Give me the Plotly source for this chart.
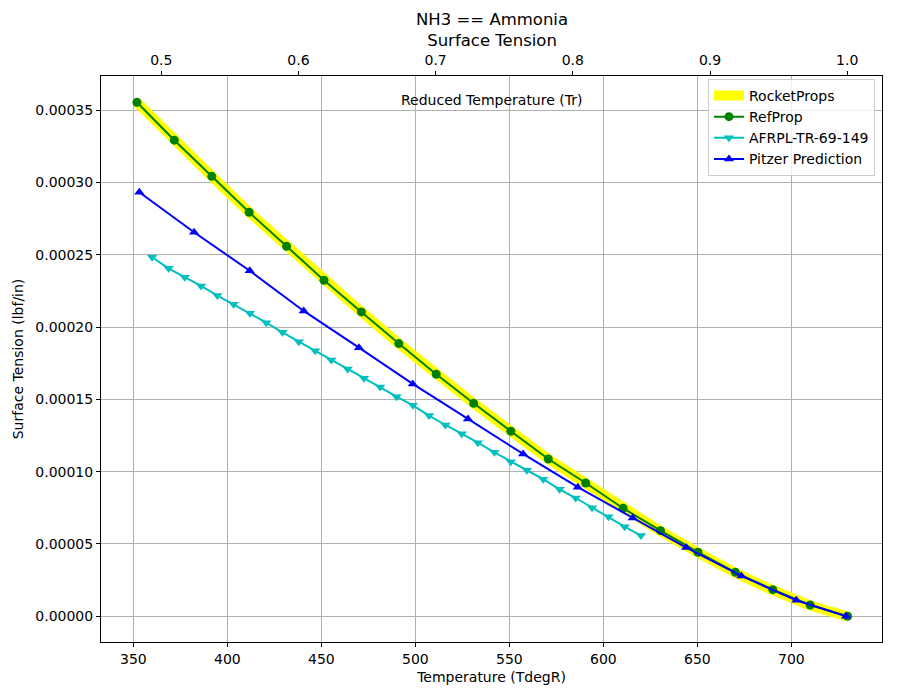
import plotly.graph_objects as go

# ---------------- data ----------------
TC_DEGR = 729.7  # critical temperature used for reduced temperature axis

refprop_T = [351.9, 371.8, 391.7, 411.6, 431.5, 451.4, 471.3, 491.2, 511.1, 531.0,
             550.8, 570.7, 590.6, 610.5, 630.4, 650.3, 670.2, 690.1, 710.0, 729.9]
refprop_st = [3.555e-4, 3.293e-4, 3.043e-4, 2.794e-4, 2.559e-4, 2.324e-4, 2.105e-4,
              1.886e-4, 1.674e-4, 1.473e-4, 1.280e-4, 1.088e-4, 0.922e-4, 0.747e-4,
              0.592e-4, 0.443e-4, 0.304e-4, 0.184e-4, 0.078e-4, 0.0]

rocketprops_T = refprop_T
rocketprops_st = [3.555e-4, 3.293e-4, 3.043e-4, 2.794e-4, 2.559e-4, 2.324e-4, 2.105e-4,
                  1.886e-4, 1.674e-4, 1.473e-4, 1.280e-4, 1.088e-4, 0.920e-4, 0.745e-4,
                  0.589e-4, 0.440e-4, 0.300e-4, 0.180e-4, 0.075e-4, -0.002e-4]

afrpl_T = [360.0, 368.7, 377.3, 386.0, 394.7, 403.3, 412.0, 420.7, 429.3, 438.0,
           446.7, 455.3, 464.0, 472.7, 481.3, 490.0, 498.7, 507.3, 516.0, 524.7,
           533.3, 542.0, 550.7, 559.3, 568.0, 576.7, 585.3, 594.0, 602.7, 611.3, 620.0]
afrpl_st = [2.483e-4, 2.407e-4, 2.345e-4, 2.285e-4, 2.218e-4, 2.158e-4, 2.096e-4,
            2.031e-4, 1.964e-4, 1.899e-4, 1.837e-4, 1.773e-4, 1.711e-4, 1.646e-4,
            1.585e-4, 1.519e-4, 1.459e-4, 1.388e-4, 1.323e-4, 1.263e-4, 1.201e-4,
            1.134e-4, 1.069e-4, 1.010e-4, 0.948e-4, 0.878e-4, 0.818e-4, 0.751e-4,
            0.689e-4, 0.620e-4, 0.558e-4]

pitzer_T = [353.2, 382.3, 411.9, 440.6, 470.0, 498.6, 528.0, 557.3, 586.4, 615.6,
            644.1, 673.4, 702.6, 729.1]
pitzer_st = [2.933e-4, 2.656e-4, 2.390e-4, 2.112e-4, 1.858e-4, 1.607e-4, 1.365e-4,
             1.123e-4, 0.893e-4, 0.680e-4, 0.475e-4, 0.279e-4, 0.111e-4, 0.0]

x_range = [332.8, 748.2]
y_range = [-0.0000178, 0.0003737]
tr_ticks = [0.5, 0.6, 0.7, 0.8, 0.9, 1.0]
t_ticks = [350, 400, 450, 500, 550, 600, 650, 700]

FONT = "DejaVu Sans"
FS = 14

fig = go.Figure()

fig.add_trace(go.Scatter(x=rocketprops_T, y=rocketprops_st, mode="lines",
                         name="RocketProps",
                         line=dict(color="#ffff00", width=10)))
fig.add_trace(go.Scatter(x=refprop_T, y=refprop_st, mode="lines+markers",
                         name="RefProp",
                         line=dict(color="#008000", width=2),
                         marker=dict(symbol="circle", size=9, color="#008000")))
fig.add_trace(go.Scatter(x=afrpl_T, y=afrpl_st, mode="lines+markers",
                         name="AFRPL-TR-69-149",
                         line=dict(color="#00bfbf", width=2),
                         marker=dict(symbol="triangle-down", size=9, color="#00bfbf")))
fig.add_trace(go.Scatter(x=pitzer_T, y=pitzer_st, mode="lines+markers",
                         name="Pitzer Prediction",
                         line=dict(color="#0000ff", width=2),
                         marker=dict(symbol="triangle-up", size=9, color="#0000ff")))
# invisible trace to activate the top (reduced temperature) axis
fig.add_trace(go.Scatter(x=[t / TC_DEGR for t in refprop_T], y=refprop_st,
                         xaxis="x2", mode="lines", line=dict(width=0),
                         opacity=0, showlegend=False, hoverinfo="skip"))

axis_common = dict(showline=True, linecolor="black", linewidth=1,
                   ticks="outside", ticklen=4, tickcolor="black",
                   tickfont=dict(family=FONT, size=FS, color="black"),
                   zeroline=False)

fig.update_layout(
    width=900, height=700,
    margin=dict(l=101, r=18, t=76, b=58),
    paper_bgcolor="white", plot_bgcolor="white",
    font=dict(family=FONT, size=FS, color="black"),
    xaxis=dict(range=x_range, tickvals=t_ticks, showgrid=True, gridcolor="#b0b0b0",
               gridwidth=1, mirror=True,
               title=dict(text="Temperature (TdegR)", font=dict(family=FONT, size=FS),
                          standoff=6),
               **axis_common),
    xaxis2=dict(range=[x_range[0] / TC_DEGR, x_range[1] / TC_DEGR], tickvals=tr_ticks,
                tickformat=".1f", overlaying="x", side="top", anchor="y",
                showgrid=False, **axis_common),
    yaxis=dict(range=y_range, dtick=0.00005, tick0=0, tickformat=".5f", showgrid=True,
               gridcolor="#b0b0b0", gridwidth=1, mirror=True,
               title=dict(text="Surface Tension (lbf/in)", font=dict(family=FONT, size=FS),
                          standoff=8),
               **axis_common),
    legend=dict(x=0.991, xanchor="right", y=0.995, yanchor="top",
                bgcolor="rgba(255,255,255,0.8)", bordercolor="#cccccc", borderwidth=1,
                font=dict(family=FONT, size=FS, color="black"), tracegroupgap=0),
    annotations=[
        dict(text="NH3 == Ammonia<br>Surface Tension", xref="paper", yref="paper",
             x=0.5, y=1.0804, xanchor="center", yanchor="middle", showarrow=False,
             font=dict(family=FONT, size=16.5, color="black")),
        dict(text="Reduced Temperature (Tr)", xref="paper", yref="paper",
             x=0.5, y=0.9576, xanchor="center", yanchor="middle",
             showarrow=False, font=dict(family=FONT, size=FS, color="black")),
    ],
    showlegend=True,
)

fig.write_html("out.html")
